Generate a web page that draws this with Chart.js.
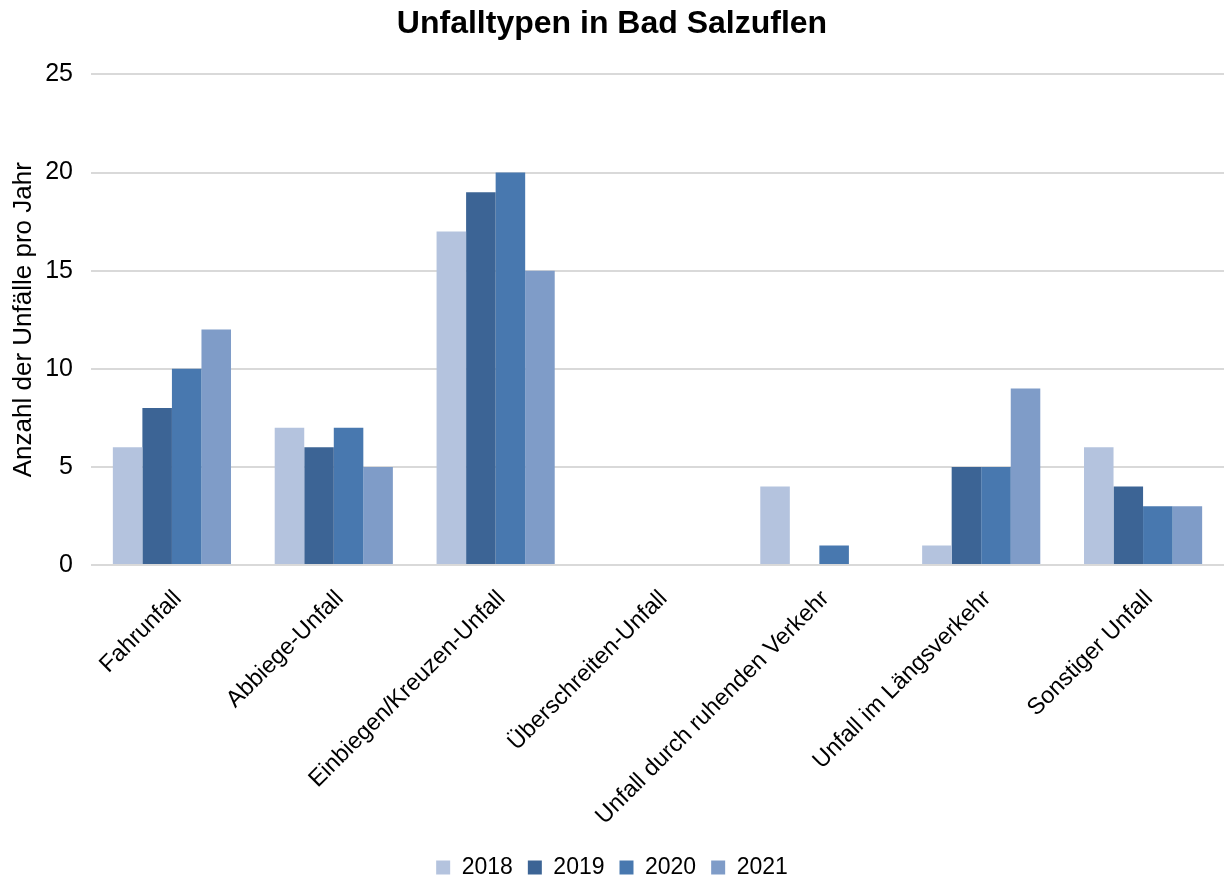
<!DOCTYPE html>
<html>
<head>
<meta charset="utf-8">
<script src="https://cdn.jsdelivr.net/npm/chart.js@4"></script>
<style>
  html, body { margin: 0; padding: 0; background: #ffffff; }
  #wrap { width: 1224px; height: 880px; }
</style>
</head>
<body>
<div id="wrap"><canvas id="c" width="1224" height="880"></canvas></div>
<script>
const categories = [
  'Fahrunfall',
  'Abbiege-Unfall',
  'Einbiegen/Kreuzen-Unfall',
  'Überschreiten-Unfall',
  'Unfall durch ruhenden Verkehr',
  'Unfall im Längsverkehr',
  'Sonstiger Unfall'
];
const years = ['2018', '2019', '2020', '2021'];
const values2018 = [6, 7, 17, 0, 4, 1, 6];
const values2019 = [8, 6, 19, 0, 0, 5, 4];
const values2020 = [10, 7, 20, 0, 1, 5, 3];
const values2021 = [12, 5, 15, 0, 0, 9, 3];
const seriesColors = ['#B4C3DE', '#3C6495', '#4878AF', '#7F9CC8'];

const FONT = '"Liberation Sans", Arial, sans-serif';
Chart.defaults.font.family = FONT;
Chart.defaults.color = '#000000';

const seriesValues = [values2018, values2019, values2020, values2021];

new Chart(document.getElementById('c'), {
  type: 'bar',
  data: {
    labels: categories,
    datasets: years.map((y, i) => ({
      label: y,
      data: seriesValues[i],
      backgroundColor: seriesColors[i],
      borderWidth: 0,
      categoryPercentage: 0.73,
      barPercentage: 1.0
    }))
  },
  options: {
    responsive: false,
    animation: false,
    layout: { padding: { left: 0, right: 0, top: 0, bottom: -9 } },
    plugins: {
      title: {
        display: true,
        text: 'Unfalltypen in Bad Salzuflen',
        font: { size: 32, weight: 'bold', family: FONT },
        color: '#000000',
        padding: { top: 5, bottom: 31 }
      },
      legend: {
        position: 'bottom',
        labels: {
          boxWidth: 14,
          boxHeight: 14,
          padding: 15,
          font: { size: 23, family: FONT },
          color: '#000000'
        }
      },
      tooltip: { enabled: false }
    },
    scales: {
      x: {
        grid: { display: false },
        border: { display: false },
        ticks: {
          minRotation: 45,
          maxRotation: 45,
          autoSkip: false,
          padding: 12,
          labelOffset: 6,
          font: { size: 23.5, family: FONT },
          color: '#000000'
        },
        afterFit: (s) => { s.height = 276; }
      },
      y: {
        min: 0,
        max: 25,
        ticks: {
          stepSize: 5,
          padding: 18,
          font: { size: 25, family: FONT },
          color: '#000000'
        },
        grid: { color: '#D9D9D9', lineWidth: 2, drawTicks: false },
        border: { display: false },
        title: {
          display: true,
          text: 'Anzahl der Unfälle pro Jahr',
          font: { size: 26, family: FONT },
          color: '#000000',
          padding: { top: 8, bottom: 0 }
        },
        afterFit: (s) => { s.width = 91; }
      }
    }
  }
});
</script>
</body>
</html>
